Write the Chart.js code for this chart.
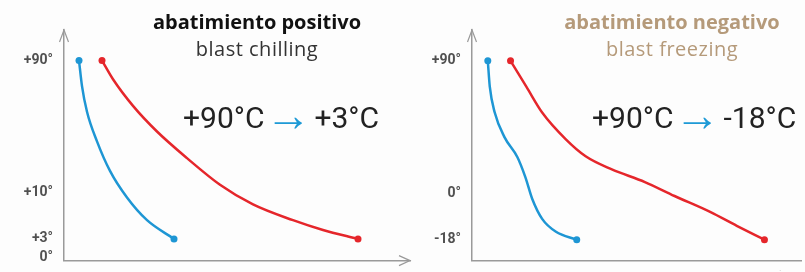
<!DOCTYPE html>
<html lang="es">
<head>
<meta charset="UTF-8">
<title>abatimiento positivo / negativo</title>
<script src="https://cdn.jsdelivr.net/npm/chart.js"></script>
<style>
  html, body { margin: 0; padding: 0; background: #fdfdfd; }
  body { width: 805px; height: 272px; position: relative; overflow: hidden; font-family: 'Open Sans', sans-serif; }
  .panel { position: absolute; top: 0; height: 272px; }
  #left { left: 0; width: 420px; }
  #right { left: 420px; width: 385px; }
  .title { position: absolute; top: 8px; width: 280px; margin-left: -140px; text-align: center; font-size: 20px; line-height: 27px; }
  .title b { display: block; font-weight: 700; letter-spacing: 0; }
  .title .sub { letter-spacing: 0.5px; }
  .big { position: absolute; top: 98px; font-family: Roboto, sans-serif; font-size: 30px; line-height: 40px; color: #222; white-space: nowrap; }
  .big .arr { color: #1e9ad6; margin: 0 3px 0 1px; font-family: Roboto, sans-serif; font-weight: 300; font-size: 46px; line-height: 0; vertical-align: -3px; }
</style>
</head>
<body>
<div class="panel" id="left"><canvas id="chartLeft"></canvas></div>
<div class="panel" id="right"><canvas id="chartRight"></canvas></div>

<div class="title" style="left:257px; color:#333"><b style="color:#111">abatimiento positivo</b><span class="sub">blast chilling</span></div>
<div class="title" style="left:672px; color:#b59a7a"><b>abatimiento negativo</b><span class="sub">blast freezing</span></div>
<div class="big" style="left:183px">+90°C<span class="arr">→</span>+3°C</div>
<div class="big" style="left:592px">+90°C<span class="arr">→</span>-18°C</div>

<script>
// niveles del eje Y (esquemático, no lineal)
const leftTickLevels = [3, 22, 69, 203];
const leftTickLabels = ['0°', '+3°', '+10°', '+90°'];
const rightTickLevels = [21, 68, 201];
const rightTickLabels = ['-18°', '0°', '+90°'];
const timeTick = [312];
const timeLabel = ['t'];

// abatimiento positivo
const leftBlueX = [15, 18, 23, 33, 46, 63, 83, 110];
const leftBlueY = [203, 177, 151, 121, 91, 64, 41, 22];
const leftRedX = [38, 49, 69, 93, 123, 156, 189, 229, 259, 294];
const leftRedY = [203, 184, 157, 131, 104, 77, 57, 41, 31, 22];

// abatimiento negativo
const rightBlueX = [16, 18, 23, 33, 46, 54, 61, 71, 85, 106];
const rightBlueY = [201, 175, 149, 124, 104, 84, 62, 42, 29, 21];
const rightRedX = [39, 55, 71, 95, 115, 141, 175, 205, 241, 268, 296];
const rightRedY = [201, 175, 149, 122, 105, 92, 79, 65, 49, 35, 21];

const BLUE = '#1e96d4';
const RED = '#e5262b';
const AXIS = '#9a9a9a';

function points(xs, ys) {
  return xs.map((x, i) => ({ x, y: ys[i] }));
}

function curve(xs, ys, color) {
  return {
    data: points(xs, ys),
    borderColor: color,
    backgroundColor: color,
    borderWidth: 2.5,
    cubicInterpolationMode: 'monotone',
    pointRadius: ctx => (ctx.dataIndex === 0 || ctx.dataIndex === xs.length - 1) ? 3.5 : 0,
    pointBorderWidth: 0
  };
}

// flechas de los ejes
const axisArrows = {
  id: 'axisArrows',
  afterDraw(chart, args, opts) {
    const { ctx, chartArea: a } = chart;
    ctx.save();
    ctx.strokeStyle = AXIS;
    ctx.lineWidth = 1.2;
    ctx.beginPath();
    ctx.moveTo(a.left - 4.5, a.top + 12);
    ctx.lineTo(a.left, a.top);
    ctx.lineTo(a.left + 4.5, a.top + 12);
    if (opts.xArrow) {
      ctx.moveTo(a.right - 11, a.bottom - 5);
      ctx.lineTo(a.right, a.bottom);
      ctx.lineTo(a.right - 11, a.bottom + 5);
    }
    ctx.stroke();
    ctx.restore();
  }
};

function makeChart(id, cfg) {
  return new Chart(document.getElementById(id), {
    type: 'line',
    data: { datasets: cfg.datasets },
    plugins: [axisArrows],
    options: {
      responsive: true,
      maintainAspectRatio: false,
      animation: false,
      layout: { padding: { top: 30, right: cfg.padRight, left: 0, bottom: 0 } },
      plugins: {
        legend: { display: false },
        tooltip: { enabled: false },
        axisArrows: { xArrow: cfg.xArrow }
      },
      scales: {
        x: {
          type: 'linear',
          min: 0,
          max: cfg.xMax,
          afterBuildTicks: s => { s.ticks = timeTick.map(v => ({ value: v })); },
          afterFit: s => { s.height = cfg.xHeight; },
          ticks: {
            autoSkip: false,
            maxRotation: 0,
            padding: 0,
            color: AXIS,
            font: { family: 'Roboto', size: 8 },
            callback: v => timeLabel[timeTick.indexOf(v)]
          },
          grid: { display: false },
          border: { display: true, color: AXIS, width: 1.5 }
        },
        y: {
          type: 'linear',
          min: 0,
          max: cfg.yMax,
          afterBuildTicks: s => { s.ticks = cfg.levels.map(v => ({ value: v })); },
          afterFit: s => { s.width = cfg.yWidth; },
          ticks: {
            autoSkip: false,
            padding: 3,
            color: '#505050',
            font: { family: 'Roboto', size: 14, weight: '700' },
            callback: v => cfg.labels[cfg.levels.indexOf(v)]
          },
          grid: { display: false },
          border: { display: true, color: AXIS, width: 1.5 }
        }
      }
    }
  });
}

makeChart('chartLeft', {
  datasets: [curve(leftBlueX, leftBlueY, BLUE), curve(leftRedX, leftRedY, RED)],
  levels: leftTickLevels,
  labels: leftTickLabels,
  xMax: 346, yMax: 234, yWidth: 64, xHeight: 8, padRight: 10, xArrow: true
});

makeChart('chartRight', {
  datasets: [curve(rightBlueX, rightBlueY, BLUE), curve(rightRedX, rightRedY, RED)],
  levels: rightTickLevels,
  labels: rightTickLabels,
  xMax: 333, yMax: 232, yWidth: 52, xHeight: 10, padRight: 0, xArrow: false
});
</script>
</body>
</html>
